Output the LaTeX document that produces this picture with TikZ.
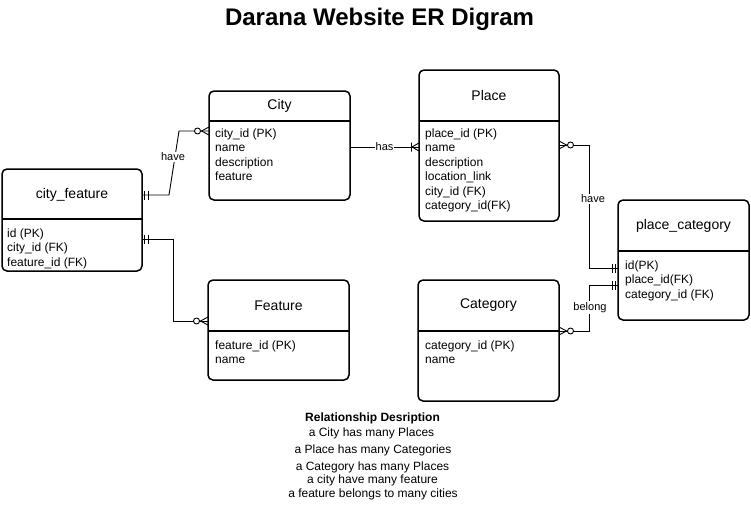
\documentclass[tikz,border=0pt]{standalone}
\usepackage{fontspec}
\setmainfont{Liberation Sans}
\begin{document}
\begin{tikzpicture}[x=1pt,y=-1pt,
 entbox/.style={draw, line width=1.5pt, rounded corners=5pt, inner sep=0pt, outer sep=0pt},
 sepline/.style={line width=1.2pt},
 hdr/.style={font=\fontsize{14}{16}\selectfont, inner sep=0pt},
 attr/.style={font=\fontsize{12}{14.5}\selectfont, align=left, inner sep=0pt, anchor=north west},
 conn/.style={line width=0.9pt},
 lbl/.style={font=\fontsize{11}{13}\selectfont, fill=white, inner sep=1pt},
 desc/.style={font=\fontsize{12}{14}\selectfont, inner sep=0pt},
 mone/.pic={\draw[conn] (2.5,-4.5) -- (2.5,4.5) (6,-4.5) -- (6,4.5);},
 zmany/.pic={\draw[conn] (0,-4) -- (7.5,0) -- (0,4); \draw[conn, fill=white] (11.5,0) circle (3);},
 omany/.pic={\draw[conn] (0,-4) -- (7,0) -- (0,4) (7.5,-4.5) -- (7.5,4.5);}
]
\path[use as bounding box, fill=white] (0,0) rectangle (751,509);

\node[font=\fontsize{24}{28}\selectfont\bfseries, inner sep=0pt] (title) at (379.5,19.5) {Darana Website ER Digram};

% City
\node[entbox, minimum width=141pt, minimum height=109pt] (city) at (279.5,145.5) {};
\draw[sepline] (city.west |- 0,121) -- (city.east |- 0,121);
\node[hdr] (cityT) at (city.center |- 0,106) {City};
\node[attr] (cityA) at (215,128.5) {city\_id (PK)\\name\\description\\feature};

% Place
\node[entbox, minimum width=140pt, minimum height=151pt] (place) at (489,145.5) {};
\draw[sepline] (place.west |- 0,121) -- (place.east |- 0,121);
\node[hdr] (placeT) at (place.center |- 0,95.5) {Place};
\node[attr] (placeA) at (425,128.5) {place\_id (PK)\\name\\description\\location\_link\\city\_id (FK)\\category\_id(FK)};

% city_feature
\node[entbox, minimum width=140pt, minimum height=102pt] (cf) at (72,220) {};
\draw[sepline] (cf.west |- 0,219) -- (cf.east |- 0,219);
\node[hdr] (cfT) at (cf.center |- 0,194.5) {city\_feature};
\node[attr] (cfA) at (7,228.5) {id (PK)\\city\_id (FK)\\feature\_id (FK)};

% place_category
\node[entbox, minimum width=131pt, minimum height=120pt] (pc) at (683.5,260) {};
\draw[sepline] (pc.west |- 0,251) -- (pc.east |- 0,251);
\node[hdr] (pcT) at (pc.center |- 0,226) {place\_category};
\node[attr] (pcA) at (625,260.5) {id(PK)\\place\_id(FK)\\category\_id (FK)};

% Feature
\node[entbox, minimum width=141pt, minimum height=100pt] (feat) at (278.5,330) {};
\draw[sepline] (feat.west |- 0,331) -- (feat.east |- 0,331);
\node[hdr] (featT) at (feat.center |- 0,305.5) {Feature};
\node[attr] (featA) at (215,340.5) {feature\_id (PK)\\name};

% Category
\node[entbox, minimum width=141pt, minimum height=121pt] (cat) at (488.5,340.5) {};
\draw[sepline] (cat.west |- 0,331) -- (cat.east |- 0,331);
\node[hdr] (catT) at (cat.center |- 0,305.5) {Category};
\node[attr] (catA) at (425,340.5) {category\_id (PK)\\name};

% connectors
\coordinate (c1a) at (169,195);
\coordinate (c1b) at (179,131);
\draw[conn] (cf.east |- 0,195) -- (c1a) -- (c1b) -- (city.west |- 0,131);
\node[lbl] (l1) at (173,157) {have};
\pic at (cf.east |- 0,195) {mone};
\pic[rotate=180] at (city.west |- 0,131) {zmany};

\draw[conn] (city.east |- 0,147) -- (place.west |- 0,147) node[lbl, midway] (l2) {has};
\pic[rotate=180] at (place.west |- 0,147) {omany};

\coordinate (c3a) at (589,145);
\coordinate (c3b) at (589,268);
\draw[conn] (place.east |- 0,145) -- (c3a) -- (c3b) -- (pc.west |- 0,268);
\node[lbl] (l3) at (593,199) {have};
\pic at (place.east |- 0,145) {zmany};
\pic[rotate=180] at (pc.west |- 0,268) {mone};

\coordinate (c4a) at (589,331);
\coordinate (c4b) at (589,285);
\draw[conn] (cat.east |- 0,331) -- (c4a) -- (c4b) -- (pc.west |- 0,285);
\node[lbl] (l4) at (590,307.5) {belong};
\pic at (cat.east |- 0,331) {zmany};
\pic[rotate=180] at (pc.west |- 0,285) {mone};

\coordinate (c5a) at (173,239);
\coordinate (c5b) at (173,321);
\draw[conn] (cf.east |- 0,239) -- (c5a) -- (c5b) -- (feat.west |- 0,321);
\pic at (cf.east |- 0,239) {mone};
\pic[rotate=180] at (feat.west |- 0,321) {zmany};

% description
\node[desc, font=\fontsize{12}{14}\selectfont\bfseries] (d0) at (372.5,418) {Relationship Desription};
\node[desc] (d1) at (371.5,433.5) {a City has many Places};
\node[desc] (d2) at (373,450.5) {a Place has many Categories};
\node[desc] (d3) at (372.5,467.5) {a Category has many Places};
\node[desc] (d4) at (372.5,480.5) {a city have many feature};
\node[desc] (d5) at (373,494.5) {a feature belongs to many cities};
\end{tikzpicture}
\end{document}
